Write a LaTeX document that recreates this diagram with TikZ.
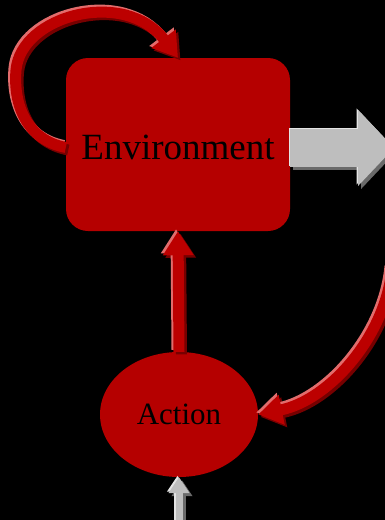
\documentclass[tikz,border=0pt]{standalone}
\usepackage{fontspec}
\setmainfont{Liberation Serif}
\usetikzlibrary{arrows.meta,shapes.geometric}
\definecolor{boxred}{HTML}{B50000}
\definecolor{tubered}{HTML}{BC0000}
\definecolor{tubelight}{HTML}{E26C6C}
\definecolor{tubedark}{HTML}{760000}
\definecolor{greyfill}{HTML}{BEBEBE}
\definecolor{greylight}{HTML}{E4E4E4}
\definecolor{greydark}{HTML}{6A6A6A}

\tikzset{
  block/.style={fill=boxred, rounded corners=22pt, minimum width=224pt,
    minimum height=173pt, inner sep=0pt, text height=30pt, text depth=0pt,
    font=\fontsize{37}{40}\selectfont},
  blob/.style={fill=boxred, ellipse, minimum width=158pt, minimum height=125pt,
    inner sep=0pt, font=\fontsize{31}{34}\selectfont},
  tube/.style={line width=11pt, -{Triangle[width=29pt,length=24pt]}},
  fatgrey/.style={line width=38pt, -{Triangle[width=74pt,length=36pt]}},
  thingrey/.style={line width=7pt, -{Triangle[width=20pt,length=16pt]}}
}

\begin{document}
\begin{tikzpicture}[x=1pt,y=-1pt]
  \fill [black] (0,0) rectangle (385,520);
  \clip (0,0) rectangle (385,520);

  % boxes
  \node[block] (env) at (178,144.5) {Environment};
  \node[blob] (act) at (179,414.5) {Action};
  \coordinate (out) at (394,148);
  \coordinate (back) at (392,268);
  \coordinate (in) at (179,530);

  % grey arrows
  \foreach \dx/\col in {3/greydark, -1.5/greylight, 0/greyfill} {
    \draw[fatgrey, draw=\col, transform canvas={xshift=\dx pt, yshift=-\dx pt}]
      ([yshift=-3.5pt]env.east) -- (out);
    \draw[thingrey, draw=\col, transform canvas={xshift=\dx pt, yshift=-\dx pt}]
      (in) -- (act.south);
  }

  % red tubes
  \foreach \dx/\col in {2.5/tubedark, -2/tubelight, 0/tubered} {
    \draw[tube, draw=\col, transform canvas={xshift=\dx pt, yshift=-\dx pt}]
      ([yshift=-3pt]env.west) .. controls (27,140) and (13,105) .. (16,70)
      .. controls (21,15) and (125,-12) .. (env.north);
    \draw[tube, draw=\col, transform canvas={xshift=\dx pt, yshift=-\dx pt}]
      (act.north) -- (env.south);
    \draw[tube, draw=\col, transform canvas={xshift=\dx pt, yshift=-\dx pt}]
      (back) .. controls (386,335) and (330,400) .. (act.east);
  }
\end{tikzpicture}
\end{document}
